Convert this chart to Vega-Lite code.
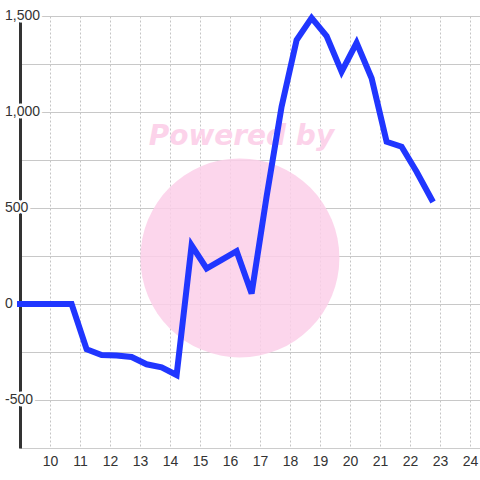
{
  "$schema": "https://vega.github.io/schema/vega-lite/v6.json",
  "width": 460,
  "height": 432,
  "autosize": {"type": "none"},
  "padding": {"left": 20, "top": 16, "right": 0, "bottom": 32},
  "config": {
    "view": {"stroke": null},
    "font": "Liberation Sans",
    "axisX": {
      "labelOverlap": false, "labelFlush": false, "labelBound": false,
      "labelFont": "Liberation Sans", "labelFontSize": 14, "labelColor": "#333333",
      "labelPadding": 6, "ticks": false,
      "domainColor": "#cccccc", "domainWidth": 1,
      "gridColor": "#c4c4c4", "gridDash": [2, 2], "gridWidth": 1
    },
    "axisY": {
      "labels": false, "ticks": false,
      "domainColor": "#333333", "domainWidth": 3,
      "gridColor": "#c8c8c8", "gridWidth": 1
    }
  },
  "datasets": {
    "series": [
      {"t": 9.0, "v": 0},
      {"t": 9.72, "v": 0},
      {"t": 10.22, "v": 0},
      {"t": 10.72, "v": 0},
      {"t": 11.22, "v": -236},
      {"t": 11.72, "v": -266},
      {"t": 12.22, "v": -268},
      {"t": 12.72, "v": -276},
      {"t": 13.22, "v": -314},
      {"t": 13.72, "v": -330},
      {"t": 14.22, "v": -370},
      {"t": 14.72, "v": 305},
      {"t": 15.22, "v": 185},
      {"t": 15.72, "v": 230},
      {"t": 16.22, "v": 275},
      {"t": 16.72, "v": 55},
      {"t": 17.22, "v": 560},
      {"t": 17.72, "v": 1028},
      {"t": 18.22, "v": 1375},
      {"t": 18.72, "v": 1490},
      {"t": 19.22, "v": 1395},
      {"t": 19.72, "v": 1210},
      {"t": 20.22, "v": 1360},
      {"t": 20.72, "v": 1176},
      {"t": 21.22, "v": 845},
      {"t": 21.72, "v": 819},
      {"t": 22.22, "v": 689},
      {"t": 22.72, "v": 545}
    ],
    "ylabels": [
      {"v": -500, "label": "-500"},
      {"v": 0, "label": "0"},
      {"v": 500, "label": "500"},
      {"v": 1000, "label": "1,000"},
      {"v": 1500, "label": "1,500"}
    ],
    "watermark": [
      {"t": 16.33, "v": 240, "w": 16.38, "wv": 828, "label": "Powered by"}
    ]
  },
  "layer": [
    {
      "data": {"name": "watermark"},
      "mark": {"type": "point", "filled": true, "size": 39600, "color": "#fbcfe9", "opacity": 0.85},
      "encoding": {
        "x": {
          "field": "t", "type": "quantitative", "title": null,
          "scale": {"domain": [9, 24.333], "nice": false, "zero": false},
          "axis": {
            "values": [10, 11, 12, 13, 14, 15, 16, 17, 18, 19, 20, 21, 22, 23, 24],
            "tickCount": 15, "format": "d",
            "grid": true, "title": null, "zindex": 0
          }
        },
        "y": {
          "field": "v", "type": "quantitative", "title": null,
          "scale": {"domain": [-750, 1500], "nice": false},
          "axis": {
            "values": [-750, -500, -250, 0, 250, 500, 750, 1000, 1250, 1500],
            "tickCount": 10,
            "grid": true, "title": null, "zindex": 0
          }
        }
      }
    },
    {
      "data": {"name": "watermark"},
      "mark": {"type": "text", "font": "DejaVu Sans", "fontWeight": "bold", "fontStyle": "italic", "fontSize": 28, "align": "center", "baseline": "alphabetic", "color": "#fcd3ea"},
      "encoding": {
        "x": {"field": "w", "type": "quantitative", "title": null},
        "y": {"field": "wv", "type": "quantitative", "title": null},
        "text": {"field": "label"}
      }
    },
    {
      "mark": {"type": "rule", "color": "#333333", "strokeWidth": 3},
      "encoding": {"y": {"datum": 0, "type": "quantitative", "title": null}}
    },
    {
      "data": {"name": "ylabels"},
      "mark": {"type": "text", "align": "left", "baseline": "middle", "dx": -15, "font": "Liberation Sans", "fontSize": 14, "fill": "white", "stroke": "white", "strokeWidth": 5},
      "encoding": {
        "x": {"datum": 9, "type": "quantitative", "title": null},
        "y": {"field": "v", "type": "quantitative", "title": null},
        "text": {"field": "label"}
      }
    },
    {
      "data": {"name": "ylabels"},
      "mark": {"type": "text", "align": "left", "baseline": "middle", "dx": -15, "font": "Liberation Sans", "fontSize": 14, "fill": "#333333"},
      "encoding": {
        "x": {"datum": 9, "type": "quantitative", "title": null},
        "y": {"field": "v", "type": "quantitative", "title": null},
        "text": {"field": "label"}
      }
    },
    {
      "data": {"name": "series"},
      "mark": {"type": "line", "color": "#2036ff", "strokeWidth": 6, "strokeCap": "square", "strokeJoin": "miter"},
      "encoding": {
        "x": {"field": "t", "type": "quantitative", "title": null},
        "y": {"field": "v", "type": "quantitative", "title": null}
      }
    }
  ]
}
